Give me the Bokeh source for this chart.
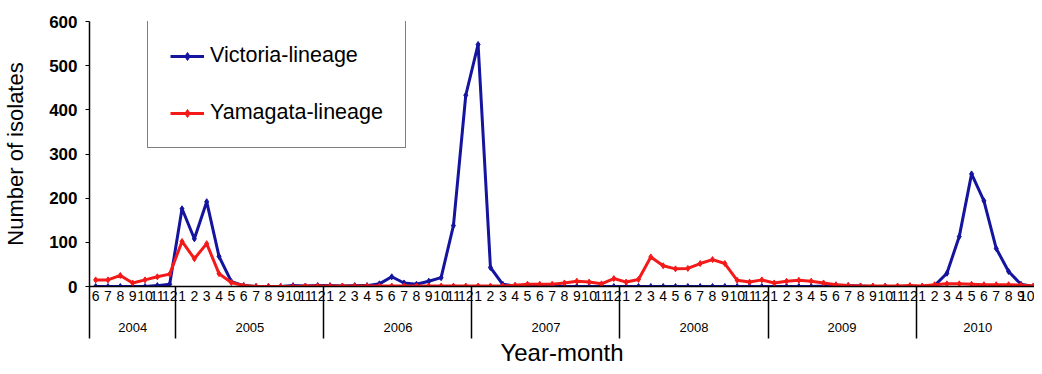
from bokeh.plotting import figure
from bokeh.models import (Range1d, FixedTicker, LinearAxis, Legend, LegendItem, ColumnDataSource)
from bokeh.embed import file_html
from bokeh.resources import INLINE

# ---- data (monthly, 2004-06 .. 2010-10) ----
years = ["2004", "2005", "2006", "2007", "2008", "2009", "2010"]
months_in_year = [list(range(6, 13)), list(range(1, 13)), list(range(1, 13)), list(range(1, 13)),
                  list(range(1, 13)), list(range(1, 13)), list(range(1, 11))]

victoria = [0, 0, 0, 0, 0, 2, 5,
            176, 108, 192, 68, 11, 2, 0, 0, 0, 2, 1, 2,
            2, 1, 2, 2, 6, 22, 8, 5, 12, 20, 138, 433,
            548, 43, 5, 1, 0, 0, 0, 0, 0, 0, 0, 0,
            0, 0, 0, 0, 0, 0, 0, 0, 0, 0, 0, 0,
            0, 0, 0, 0, 1, 3, 2, 1, 0, 0, 0, 0,
            0, 2, 30, 113, 255, 194, 86, 34, 5, 0]

yamagata = [15, 15, 25, 8, 15, 22, 28,
            102, 63, 97, 29, 9, 2, 0, 0, 0, 0, 1, 1,
            1, 1, 1, 1, 1, 1, 1, 1, 1, 1, 1, 1,
            1, 1, 1, 3, 5, 5, 5, 8, 12, 10, 6, 18,
            10, 16, 67, 47, 40, 41, 52, 61, 52, 14, 10, 15,
            8, 12, 14, 12, 8, 4, 2, 1, 1, 1, 1, 2,
            1, 4, 6, 6, 5, 4, 4, 4, 3, 1]

y_ticks = [0, 100, 200, 300, 400, 500, 600]

# ---- derived positions ----
month_labels = [str(m) for ms in months_in_year for m in ms]
n = len(month_labels)
x = list(range(n))
bounds = [-0.5]
for ms in months_in_year:
    bounds.append(bounds[-1] + len(ms))
year_centers = [(bounds[i] + bounds[i + 1]) / 2 for i in range(len(years))]

FONT = "Liberation Sans"
BLUE = "#14149f"
RED = "#f41a1a"

p = figure(width=1034, height=368, output_backend="svg", toolbar_location=None,
           x_range=Range1d(-0.5, 76.1), y_range=Range1d(0, 600),
           min_border_left=87, min_border_top=21, min_border_right=0, min_border_bottom=10,
           x_axis_type=None)
p.xgrid.visible = False
p.ygrid.visible = False
p.outline_line_color = None
p.background_fill_color = "white"
p.border_fill_color = "white"

src = ColumnDataSource(dict(x=x, vic=victoria, yam=yamagata))
l1 = p.line("x", "vic", source=src, line_width=3, line_color=BLUE)
s1 = p.scatter("x", "vic", source=src, marker="diamond", size=6, color=BLUE)
l2 = p.line("x", "yam", source=src, line_width=3, line_color=RED)
s2 = p.scatter("x", "yam", source=src, marker="diamond", size=6, color=RED)

# y axis
ya = p.yaxis[0]
ya.ticker = FixedTicker(ticks=y_ticks)
ya.major_label_text_font = FONT
ya.major_label_text_font_size = "17px"
ya.major_label_text_font_style = "bold"
ya.major_label_text_color = "black"
ya.major_tick_out = 4
ya.major_tick_in = 0
ya.minor_tick_out = 0
ya.minor_tick_in = 0
ya.major_label_standoff = 8
ya.axis_line_color = "black"
ya.axis_line_width = 1.5
ya.major_tick_line_color = "black"
ya.axis_label = "Number of isolates"
ya.axis_label_text_font = FONT
ya.axis_label_text_font_size = "22px"
ya.axis_label_text_font_style = "normal"
ya.axis_label_text_color = "black"
ya.axis_label_standoff = 18

# month axis with year separators as minor ticks (drawn outward via negative tick_in)
xa = LinearAxis(ticker=FixedTicker(ticks=x, minor_ticks=bounds))
xa.major_label_overrides = {i: lab for i, lab in enumerate(month_labels)}
xa.major_label_text_font = FONT
xa.major_label_text_font_size = "14px"
xa.major_label_text_color = "black"
xa.major_label_standoff = 4
xa.major_tick_out = 0
xa.major_tick_in = 0
xa.minor_tick_out = 0
xa.minor_tick_in = -52
xa.minor_tick_line_color = "black"
xa.minor_tick_line_width = 1.5
xa.axis_line_color = "black"
xa.axis_line_width = 1.5
p.add_layout(xa, "below")

# year axis
ya2 = LinearAxis(ticker=FixedTicker(ticks=year_centers, minor_ticks=[]))
ya2.major_label_overrides = {c: yr for c, yr in zip(year_centers, years)}
ya2.major_label_text_font = FONT
ya2.major_label_text_font_size = "13px"
ya2.major_label_text_color = "black"
ya2.major_label_standoff = 19
ya2.major_tick_out = 0
ya2.major_tick_in = 0
ya2.minor_tick_out = 0
ya2.axis_line_color = None
ya2.axis_label = "Year-month"
ya2.axis_label_text_font = FONT
ya2.axis_label_text_font_size = "24px"
ya2.axis_label_text_font_style = "normal"
ya2.axis_label_text_color = "black"
ya2.axis_label_standoff = 4
p.add_layout(ya2, "below")

legend = Legend(items=[LegendItem(label="Victoria-lineage", renderers=[l1, s1]),
                       LegendItem(label="Yamagata-lineage", renderers=[l2, s2])],
                location=(58, 138))
legend.label_text_font = FONT
legend.label_text_font_size = "21.5px"
legend.label_text_color = "black"
legend.glyph_width = 34
legend.glyph_height = 20
legend.label_standoff = 6
legend.padding = 22
legend.spacing = 32
legend.margin = 0
legend.border_line_color = "black"
legend.border_line_width = 1
legend.background_fill_color = "white"
legend.background_fill_alpha = 1
p.add_layout(legend)

open("out.html", "w").write(file_html(p, INLINE))
